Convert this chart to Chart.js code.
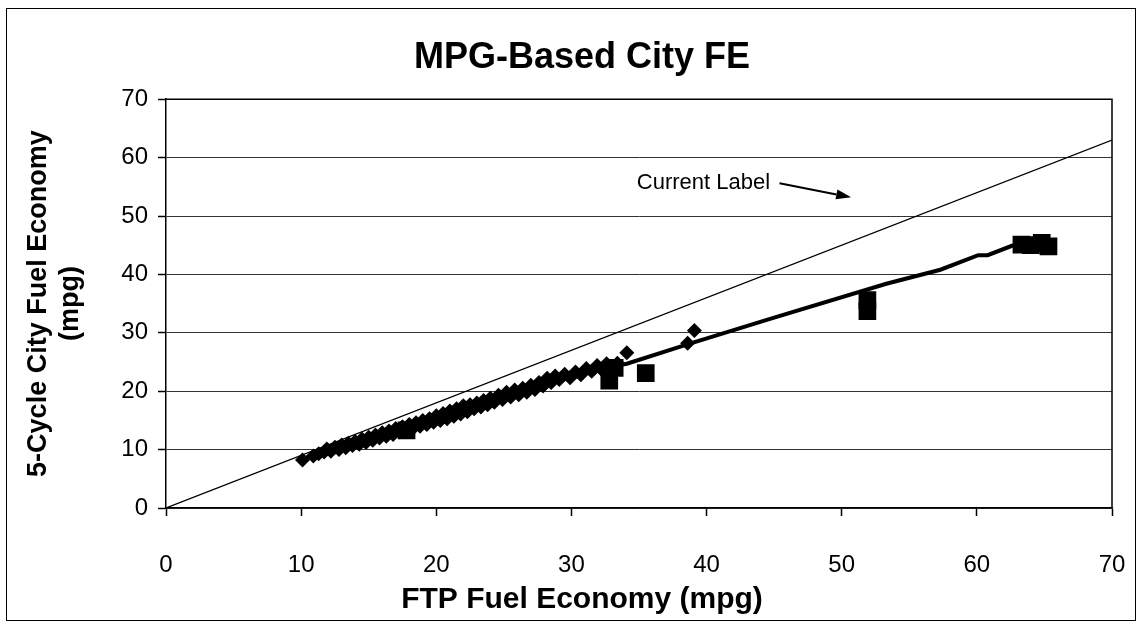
<!DOCTYPE html>
<html>
<head>
<meta charset="utf-8">
<title>MPG-Based City FE</title>
<script src="https://cdn.jsdelivr.net/npm/chart.js@4.4.1/dist/chart.umd.min.js"></script>
<style>
  html, body { margin: 0; padding: 0; background: #fff; }
  #fe { display: block; }
</style>
</head>
<body>
<canvas id="fe" width="1141" height="627"></canvas>
<script>
// vehicle data (diamonds)
const vehFtp = [10.1, 10.9, 11.3, 11.7, 11.9, 12.2, 12.5, 12.8, 13.0, 13.3, 13.5, 13.8, 14.0, 14.3, 14.5, 14.8,
  15.0, 15.3, 15.5, 15.8, 16.0, 16.3, 16.5, 16.8, 17.0, 17.3, 17.5, 17.8, 18.0, 18.3, 18.5, 18.8, 19.0, 19.3,
  19.5, 19.8, 20.0, 20.3, 20.5, 20.8, 21.0, 21.3, 21.5, 21.8, 22.0, 22.3, 22.5, 22.8, 23.0, 23.3, 23.5, 23.8,
  24.0, 24.3, 24.6, 24.9, 25.2, 25.5, 25.8, 26.1, 26.4, 26.7, 27.0, 27.3, 27.6, 27.9, 28.2, 28.5, 28.8, 29.1,
  29.5, 29.9, 30.3, 30.7, 31.1, 31.5, 31.9, 32.2, 32.6, 33.0, 33.4, 34.1, 38.6, 39.1];
const vehCity = [8.2, 8.9, 9.3, 9.6, 10.1, 9.7, 10.4, 10.0, 10.8, 10.3, 11.1, 10.7, 11.4, 10.9, 11.8, 11.2,
  12.1, 11.6, 12.5, 12.0, 12.9, 12.3, 13.2, 12.6, 13.6, 13.0, 13.9, 13.4, 14.3, 13.7, 14.6, 14.0, 15.0, 14.3,
  15.3, 14.7, 15.8, 15.0, 16.2, 15.3, 16.6, 15.7, 17.0, 16.1, 17.5, 16.5, 17.7, 17.0, 18.0, 17.3, 18.4, 17.7,
  18.8, 18.1, 19.3, 18.6, 19.8, 19.0, 20.2, 19.4, 20.5, 19.8, 21.0, 20.3, 21.5, 20.9, 22.2, 21.5, 22.6, 22.0,
  22.9, 22.3, 23.3, 22.8, 23.9, 23.4, 24.4, 23.8, 24.7, 24.2, 24.8, 26.6, 28.2, 30.4];

// hybrid data (squares)
const hybFtp = [17.8, 32.8, 33.2, 35.5, 51.9, 51.9, 63.3, 64.0, 64.8, 65.3];
const hybCity = [13.3, 21.8, 24.0, 23.1, 35.6, 33.7, 45.1, 45.0, 45.4, 44.8];

// fitted curve
const fitFtp = [10, 15, 20, 25, 30, 34.1, 38.7, 45.0, 53.3, 57.3, 60.1, 60.8, 62.6, 63.3];
const fitCity = [8.3, 12.0, 15.6, 19.4, 23.0, 24.7, 28.1, 32.6, 38.4, 40.8, 43.3, 43.3, 44.9, 45.3];

// current label line (city = 0.9 x FTP)
const labelFtp = [0, 70];
const labelCity = [0, 63];

const axisMin = 0, axisMax = 70, axisStep = 10;

// annotation place, in data units
const note = { text: 'Current Label', x: 44.7, y: 55.6, fromX: 45.4, fromY: 55.6, toX: 50.7, toY: 53.2 };

const FONT = '"Liberation Sans", Arial, Helvetica, sans-serif';
const pts = (xs, ys) => xs.map((x, i) => ({ x: x, y: ys[i] }));

const paperPlugin = {
  id: 'paper',
  beforeDraw(chart) {
    const c = chart.ctx;
    c.save();
    c.fillStyle = '#fff';
    c.fillRect(0, 0, chart.width, chart.height);
    c.restore();
  },
  afterDraw(chart) {
    const c = chart.ctx, a = chart.chartArea;
    c.save();
    c.strokeStyle = '#000';
    // plot box top / right
    c.lineWidth = 1.5;
    c.beginPath();
    c.moveTo(a.left, a.top);
    c.lineTo(a.right, a.top);
    c.lineTo(a.right, a.bottom);
    c.stroke();
    // outer frame
    c.lineWidth = 1;
    c.strokeRect(6.5, 8.5, 1129, 612);
    c.restore();
  }
};

const notePlugin = {
  id: 'note',
  afterDatasetsDraw(chart) {
    const c = chart.ctx, xs = chart.scales.x, ys = chart.scales.y;
    const x0 = xs.getPixelForValue(note.fromX), y0 = ys.getPixelForValue(note.fromY);
    const x1 = xs.getPixelForValue(note.toX), y1 = ys.getPixelForValue(note.toY);
    c.save();
    c.fillStyle = '#000';
    c.strokeStyle = '#000';
    c.font = '22px ' + FONT;
    c.textAlign = 'right';
    c.textBaseline = 'middle';
    c.fillText(note.text, xs.getPixelForValue(note.x), ys.getPixelForValue(note.y));
    // arrow
    const ang = Math.atan2(y1 - y0, x1 - x0);
    const head = 15, half = 5;
    const bx = x1 - head * Math.cos(ang), by = y1 - head * Math.sin(ang);
    c.lineWidth = 2;
    c.beginPath();
    c.moveTo(x0, y0);
    c.lineTo(bx, by);
    c.stroke();
    c.beginPath();
    c.moveTo(x1, y1);
    c.lineTo(bx + half * Math.sin(ang), by - half * Math.cos(ang));
    c.lineTo(bx - half * Math.sin(ang), by + half * Math.cos(ang));
    c.closePath();
    c.fill();
    c.restore();
  }
};

new Chart(document.getElementById('fe'), {
  type: 'scatter',
  data: {
    datasets: [
      {
        label: 'Hybrids',
        data: pts(hybFtp, hybCity),
        pointStyle: 'rect',
        pointRadius: 12.5,
        backgroundColor: '#000',
        borderWidth: 0,
        order: 0
      },
      {
        label: 'Fit',
        data: pts(fitFtp, fitCity),
        showLine: true,
        pointRadius: 0,
        borderColor: '#000',
        borderWidth: 4,
        tension: 0,
        order: 1
      },
      {
        label: 'Vehicles',
        data: pts(vehFtp, vehCity),
        pointStyle: 'rectRot',
        pointRadius: 7.5,
        backgroundColor: '#000',
        borderWidth: 0,
        order: 2
      },
      {
        label: 'Current Label',
        data: pts(labelFtp, labelCity),
        showLine: true,
        pointRadius: 0,
        borderColor: '#000',
        borderWidth: 1.2,
        order: 3
      }
    ]
  },
  options: {
    responsive: false,
    animation: false,
    devicePixelRatio: 1,
    // left/right padding also centres the titles on the page like the original
    layout: { padding: { left: 52, right: 29, top: 0, bottom: 0 } },
    plugins: {
      legend: { display: false },
      tooltip: { enabled: false },
      title: {
        display: true,
        text: 'MPG-Based City FE',
        color: '#000',
        font: { family: FONT, size: 36, weight: 'bold' },
        padding: { top: 36, bottom: 20 }
      },
      subtitle: {
        display: true,
        position: 'bottom',
        text: 'FTP Fuel Economy (mpg)',
        color: '#000',
        font: { family: FONT, size: 30, weight: 'bold' },
        padding: { top: 0, bottom: 9 }
      }
    },
    scales: {
      x: {
        type: 'linear',
        min: axisMin,
        max: axisMax,
        ticks: { stepSize: axisStep, color: '#000', font: { family: FONT, size: 24 }, padding: 35, maxRotation: 0 },
        grid: { drawOnChartArea: false, drawTicks: true, tickLength: 8, tickColor: '#000', tickWidth: 1.5 },
        border: { color: '#000', width: 1.5 },
        afterFit(s) {
          s.height = 74;
          s.paddingLeft = 0;
          s.paddingRight = 0;
        }
      },
      y: {
        type: 'linear',
        min: axisMin,
        max: axisMax,
        ticks: { stepSize: axisStep, color: '#000', font: { family: FONT, size: 24 }, padding: 10 },
        grid: { color: '#333', lineWidth: 1, drawTicks: true, tickLength: 8, tickColor: '#000', tickWidth: 1.5 },
        border: { color: '#000', width: 1.5 },
        title: {
          display: true,
          text: ['5-Cycle City Fuel Economy', '(mpg)'],
          color: '#000',
          font: { family: FONT, size: 27, weight: 'bold' },
          padding: { top: -30, bottom: 0 }
        },
        afterFit(s) { s.width = 114; }
      }
    }
  },
  plugins: [paperPlugin, notePlugin]
});
</script>
</body>
</html>
